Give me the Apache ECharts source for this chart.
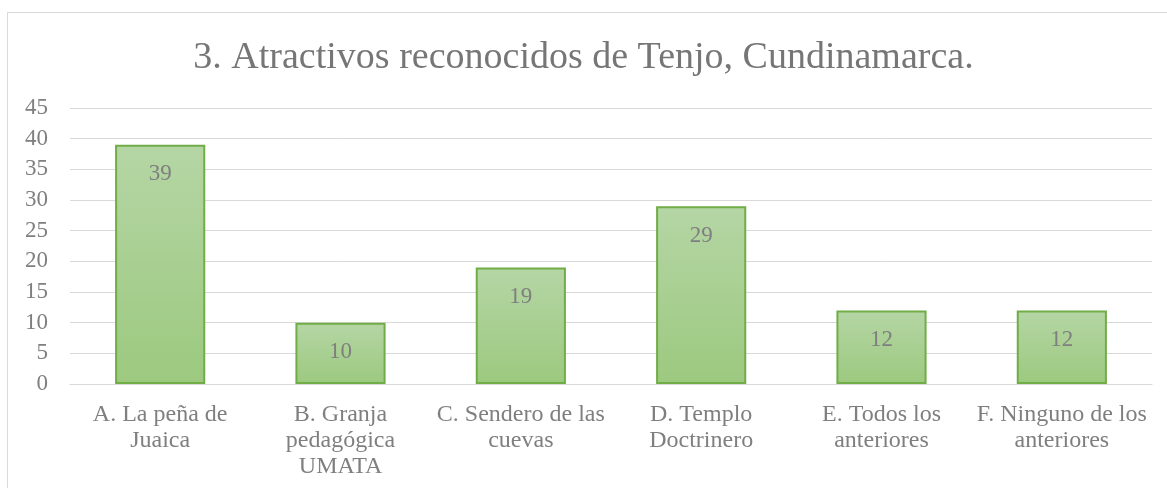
<!DOCTYPE html>
<html>
<head>
<meta charset="utf-8">
<script src="https://cdn.jsdelivr.net/npm/echarts@6/dist/echarts.min.js"></script>
<style>
  html, body { margin: 0; padding: 0; background: #fff; }
  #chart { width: 1167px; height: 488px; }
</style>
</head>
<body>
<div id="chart"></div>
<script>
// categorías (con saltos de línea como en el gráfico original)
const categories = [
    'A. La peña de\nJuaica',
    'B. Granja\npedagógica\nUMATA',
    'C. Sendero de las\ncuevas',
    'D. Templo\nDoctrinero',
    'E. Todos los\nanteriores',
    'F. Ninguno de los\nanteriores'
];
const values = [39, 10, 19, 29, 12, 12];

const serif = '"Liberation Serif", "DejaVu Serif", serif';
const gray = '#7f7f7f';

const chart = echarts.init(document.getElementById('chart'));

const option = {
    animation: false,
    backgroundColor: '#fff',
    title: {
        text: '3. Atractivos reconocidos de Tenjo, Cundinamarca.',
        left: 'center',
        top: 34,
        textStyle: {
            fontFamily: serif,
            fontWeight: 'normal',
            fontSize: 38,
            color: '#767676'
        }
    },
    graphic: [{
        type: 'rect',
        shape: { x: 7.5, y: 12.5, width: 1180, height: 500 },
        style: { fill: 'none', stroke: '#d9d9d9', lineWidth: 1 },
        silent: true
    }],
    grid: {
        left: 70,
        right: 15,
        top: 108,
        bottom: 104
    },
    xAxis: {
        type: 'category',
        data: categories,
        axisLine: { lineStyle: { color: '#d9d9d9' } },
        axisTick: { show: false },
        axisLabel: {
            interval: 0,
            margin: 18,
            fontFamily: serif,
            fontSize: 24,
            lineHeight: 26,
            color: gray
        }
    },
    yAxis: {
        type: 'value',
        min: 0,
        max: 45,
        interval: 5,
        axisLine: { show: false },
        axisTick: { show: false },
        splitLine: { lineStyle: { color: '#d9d9d9', width: 1 } },
        axisLabel: {
            margin: 22,
            fontFamily: serif,
            fontSize: 23,
            color: gray
        }
    },
    series: [{
        type: 'bar',
        data: values,
        barCategoryGap: '50%',
        itemStyle: {
            color: new echarts.graphic.LinearGradient(0, 0, 0, 1, [
                { offset: 0, color: '#b5d6a5' },
                { offset: 1, color: '#9cc97f' }
            ]),
            borderColor: '#70ad47',
            borderWidth: 2
        },
        label: {
            show: true,
            position: 'insideTop',
            distance: 18,
            fontFamily: serif,
            fontSize: 23,
            color: gray
        }
    }]
};

chart.setOption(option);
</script>
</body>
</html>
